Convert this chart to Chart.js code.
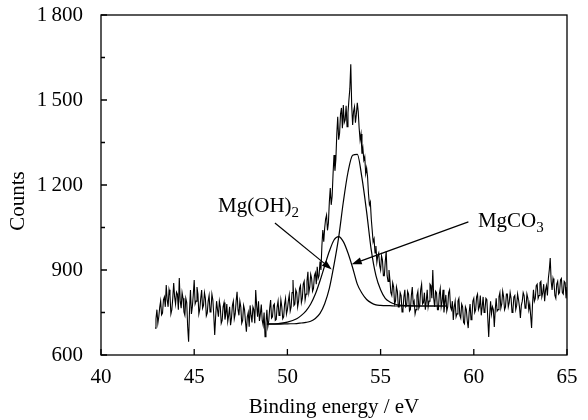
<!DOCTYPE html>
<html>
<head>
<meta charset="utf-8">
<title>Mg 2p XPS</title>
<script src="https://cdn.jsdelivr.net/npm/chart.js@4.4.1/dist/chart.umd.min.js"></script>
<style>
  html, body { margin: 0; padding: 0; background: #fff; }
</style>
</head>
<body>
<canvas id="xps" width="588" height="420"></canvas>
<script>
// ================================
// DATA
// ================================
const energy = [
  42.90, 42.95,
  43.00, 43.05, 43.10, 43.15, 43.20, 43.25, 43.30, 43.35, 43.40, 43.45, 43.50, 43.55, 43.60, 43.65, 43.70, 43.75, 43.80, 43.85, 43.90, 43.95,
  44.00, 44.05, 44.10, 44.15, 44.20, 44.25, 44.30, 44.35, 44.40, 44.45, 44.50, 44.55, 44.60, 44.65, 44.70, 44.75, 44.80, 44.85, 44.90, 44.95,
  45.00, 45.05, 45.10, 45.15, 45.20, 45.25, 45.30, 45.35, 45.40, 45.45, 45.50, 45.55, 45.60, 45.65, 45.70, 45.75, 45.80, 45.85, 45.90, 45.95,
  46.00, 46.05, 46.10, 46.15, 46.20, 46.25, 46.30, 46.35, 46.40, 46.45, 46.50, 46.55, 46.60, 46.65, 46.70, 46.75, 46.80, 46.85, 46.90, 46.95,
  47.00, 47.05, 47.10, 47.15, 47.20, 47.25, 47.30, 47.35, 47.40, 47.45, 47.50, 47.55, 47.60, 47.65, 47.70, 47.75, 47.80, 47.85, 47.90, 47.95,
  48.00, 48.05, 48.10, 48.15, 48.20, 48.25, 48.30, 48.35, 48.40, 48.45, 48.50, 48.55, 48.60, 48.65, 48.70, 48.75, 48.80, 48.85, 48.90, 48.95,
  49.00, 49.05, 49.10, 49.15, 49.20, 49.25, 49.30, 49.35, 49.40, 49.45, 49.50, 49.55, 49.60, 49.65, 49.70, 49.75, 49.80, 49.85, 49.90, 49.95,
  50.00, 50.05, 50.10, 50.15, 50.20, 50.25, 50.30, 50.35, 50.40, 50.45, 50.50, 50.55, 50.60, 50.65, 50.70, 50.75, 50.80, 50.85, 50.90, 50.95,
  51.00, 51.05, 51.10, 51.15, 51.20, 51.25, 51.30, 51.35, 51.40, 51.45, 51.50, 51.55, 51.60, 51.65, 51.70, 51.75, 51.80, 51.85, 51.90, 51.95,
  52.00, 52.05, 52.10, 52.15, 52.20, 52.25, 52.30, 52.35, 52.40, 52.45, 52.50, 52.55, 52.60, 52.65, 52.70, 52.75, 52.80, 52.85, 52.90, 52.95,
  53.00, 53.05, 53.10, 53.15, 53.20, 53.25, 53.30, 53.35, 53.40, 53.45, 53.50, 53.55, 53.60, 53.65, 53.70, 53.75, 53.80, 53.85, 53.90, 53.95,
  54.00, 54.05, 54.10, 54.15, 54.20, 54.25, 54.30, 54.35, 54.40, 54.45, 54.50, 54.55, 54.60, 54.65, 54.70, 54.75, 54.80, 54.85, 54.90, 54.95,
  55.00, 55.05, 55.10, 55.15, 55.20, 55.25, 55.30, 55.35, 55.40, 55.45, 55.50, 55.55, 55.60, 55.65, 55.70, 55.75, 55.80, 55.85, 55.90, 55.95,
  56.00, 56.05, 56.10, 56.15, 56.20, 56.25, 56.30, 56.35, 56.40, 56.45, 56.50, 56.55, 56.60, 56.65, 56.70, 56.75, 56.80, 56.85, 56.90, 56.95,
  57.00, 57.05, 57.10, 57.15, 57.20, 57.25, 57.30, 57.35, 57.40, 57.45, 57.50, 57.55, 57.60, 57.65, 57.70, 57.75, 57.80, 57.85, 57.90, 57.95,
  58.00, 58.05, 58.10, 58.15, 58.20, 58.25, 58.30, 58.35, 58.40, 58.45, 58.50, 58.55, 58.60, 58.65, 58.70, 58.75, 58.80, 58.85, 58.90, 58.95,
  59.00, 59.05, 59.10, 59.15, 59.20, 59.25, 59.30, 59.35, 59.40, 59.45, 59.50, 59.55, 59.60, 59.65, 59.70, 59.75, 59.80, 59.85, 59.90, 59.95,
  60.00, 60.05, 60.10, 60.15, 60.20, 60.25, 60.30, 60.35, 60.40, 60.45, 60.50, 60.55, 60.60, 60.65, 60.70, 60.75, 60.80, 60.85, 60.90, 60.95,
  61.00, 61.05, 61.10, 61.15, 61.20, 61.25, 61.30, 61.35, 61.40, 61.45, 61.50, 61.55, 61.60, 61.65, 61.70, 61.75, 61.80, 61.85, 61.90, 61.95,
  62.00, 62.05, 62.10, 62.15, 62.20, 62.25, 62.30, 62.35, 62.40, 62.45, 62.50, 62.55, 62.60, 62.65, 62.70, 62.75, 62.80, 62.85, 62.90, 62.95,
  63.00, 63.05, 63.10, 63.15, 63.20, 63.25, 63.30, 63.35, 63.40, 63.45, 63.50, 63.55, 63.60, 63.65, 63.70, 63.75, 63.80, 63.85, 63.90, 63.95,
  64.00, 64.05, 64.10, 64.15, 64.20, 64.25, 64.30, 64.35, 64.40, 64.45, 64.50, 64.55, 64.60, 64.65, 64.70, 64.75, 64.80, 64.85, 64.90, 64.95,
  65.00
];

const counts = [
  695, 728,
  760, 712, 735, 768, 790, 742, 748, 795, 805, 770, 847, 795, 770, 830, 812, 745, 760, 800, 854, 805,
  780, 822, 815, 760, 872, 790, 765, 820, 800, 752, 740, 800, 785, 700, 647, 760, 829, 745, 770, 812,
  865, 780, 790, 840, 815, 745, 762, 800, 829, 765, 775, 820, 800, 738, 748, 790, 810, 752, 760, 815,
  795, 740, 671, 735, 790, 760, 735, 790, 770, 712, 722, 770, 785, 725, 745, 780, 718, 740, 770, 705,
  730, 775, 790, 728, 745, 790, 823, 760, 740, 790, 770, 712, 722, 775, 760, 718, 682, 735, 750, 700,
  775, 740, 715, 770, 760, 712, 829, 775, 735, 790, 720, 745, 778, 722, 705, 750, 665, 712, 760, 700,
  720, 765, 794, 730, 735, 775, 780, 722, 725, 770, 790, 740, 748, 795, 770, 728, 735, 780, 800, 745,
  760, 790, 812, 755, 770, 820, 865, 775, 780, 830, 820, 770, 790, 835, 845, 785, 800, 850, 860, 795,
  815, 860, 894, 820, 840, 885, 870, 825, 835, 880, 890, 850, 911, 870, 880, 930, 900, 985, 1041, 1000,
  1048, 1080, 1094, 1040, 1066, 1140, 1189, 1130, 1160, 1240, 1306, 1250, 1290, 1380, 1441, 1360, 1383, 1450, 1472, 1400,
  1482, 1420, 1430, 1480, 1406, 1455, 1500, 1540, 1626, 1480, 1412, 1460, 1476, 1420, 1450, 1490, 1459, 1400, 1359, 1380,
  1310, 1330, 1288, 1300, 1240, 1260, 1229, 1170, 1130, 1140, 1080, 1040, 999, 1010, 960, 985, 928, 950, 960, 915,
  900, 950, 935, 880, 880, 930, 965, 880, 860, 900, 865, 820, 810, 855, 840, 780, 790, 840, 825, 770,
  770, 820, 810, 752, 760, 805, 830, 770, 775, 825, 815, 755, 760, 810, 840, 780, 790, 745, 760, 810,
  825, 765, 775, 830, 850, 780, 785, 820, 760, 790, 830, 770, 790, 850, 845, 800, 900, 800, 770, 825,
  820, 760, 760, 815, 835, 770, 790, 830, 750, 785, 812, 755, 770, 820, 830, 770, 760, 790, 724, 770,
  790, 735, 745, 790, 800, 740, 730, 780, 770, 715, 710, 770, 760, 720, 695, 750, 780, 725, 735, 790,
  800, 750, 760, 805, 815, 760, 770, 810, 740, 770, 805, 750, 760, 800, 795, 730, 664, 740, 790, 745,
  770, 760, 699, 760, 800, 755, 760, 805, 820, 765, 780, 825, 805, 760, 770, 815, 815, 770, 785, 820,
  800, 750, 760, 805, 810, 760, 775, 815, 795, 770, 731, 775, 790, 820, 810, 765, 770, 815, 800, 760,
  780, 740, 695, 780, 830, 790, 800, 845, 850, 800, 810, 855, 860, 805, 820, 850, 790, 830, 845, 810,
  870, 900, 942, 860, 830, 870, 855, 810, 800, 850, 860, 815, 820, 865, 870, 820, 815, 860, 855, 800,
  840
];

// fitted components
const fitEnergy = [48.9, 49.5, 50.0, 50.5, 50.75, 51.0, 51.25, 51.5, 51.75, 52.0,
  52.25, 52.5, 52.75, 53.0, 53.25, 53.5, 53.75, 54.0, 54.25, 54.5,
  54.75, 55.0, 55.25, 55.5, 55.75, 56.0, 56.5, 57.0, 58.5];
const ohFit = [710, 711, 716, 728, 740, 756, 780, 815, 862, 915,
  966, 1006, 1018, 1000, 960, 908, 850, 818, 796, 784,
  777, 775, 774, 774, 773, 773, 773, 773, 773];
const co3Fit = [709, 709, 710, 711, 713, 715, 719, 729, 747, 781,
  835, 918, 1015, 1140, 1245, 1305, 1308, 1225, 1105, 970,
  880, 830, 800, 787, 780, 776, 774, 773, 773];

// axis ticks
const xTicks = [40, 45, 50, 55, 60, 65];
const yTicks = [600, 900, 1200, 1500, 1800];
const yMinor = [750, 1050, 1350, 1650];

// annotations: [label, sub, textX, textY, arrowFromX, arrowFromY, arrowToX, arrowToY]
const notes = [
  ["Mg(OH)", "2", 46.28, 1105, 49.33, 1066, 52.38, 902],
  ["MgCO", "3", 60.22, 1052, 59.71, 1070, 53.45, 920]
];

const FONT = "'Liberation Serif', 'Times New Roman', serif";

// ================================
// FRAME, TICKS, TITLES, ARROWS
// ================================
const decor = {
  id: "decor",
  afterDraw(chart) {
    const { ctx, chartArea: a, scales: { x, y } } = chart;
    ctx.save();
    ctx.strokeStyle = "#000";
    ctx.fillStyle = "#000";
    ctx.lineWidth = 1.3;
    ctx.strokeRect(a.left, a.top, a.right - a.left, a.bottom - a.top);

    // inward ticks
    ctx.beginPath();
    xTicks.forEach(v => {
      const px = x.getPixelForValue(v);
      ctx.moveTo(px, a.bottom);
      ctx.lineTo(px, a.bottom - 6);
    });
    yTicks.forEach(v => {
      const py = y.getPixelForValue(v);
      ctx.moveTo(a.left, py);
      ctx.lineTo(a.left + 6, py);
    });
    yMinor.forEach(v => {
      const py = y.getPixelForValue(v);
      ctx.moveTo(a.left, py);
      ctx.lineTo(a.left + 4, py);
    });
    ctx.stroke();

    // axis titles
    ctx.font = "21px " + FONT;
    ctx.textAlign = "center";
    ctx.textBaseline = "alphabetic";
    ctx.fillText("Binding energy / eV", (a.left + a.right) / 2, 413);
    ctx.save();
    ctx.translate(24, 201);
    ctx.rotate(-Math.PI / 2);
    ctx.fillText("Counts", 0, 0);
    ctx.restore();

    // labels + arrows
    notes.forEach(([txt, sub, tx, ty, fx, fy, ex, ey]) => {
      const lx = x.getPixelForValue(tx), ly = y.getPixelForValue(ty);
      ctx.textAlign = "left";
      ctx.font = "21px " + FONT;
      ctx.fillText(txt, lx, ly);
      const w = ctx.measureText(txt).width;
      ctx.font = "15px " + FONT;
      ctx.fillText(sub, lx + w, ly + 5);

      const x0 = x.getPixelForValue(fx), y0 = y.getPixelForValue(fy);
      const x1 = x.getPixelForValue(ex), y1 = y.getPixelForValue(ey);
      const ang = Math.atan2(y1 - y0, x1 - x0);
      const hl = 10, hw = 3.5;
      ctx.lineWidth = 1.2;
      ctx.beginPath();
      ctx.moveTo(x0, y0);
      ctx.lineTo(x1 - hl * Math.cos(ang), y1 - hl * Math.sin(ang));
      ctx.stroke();
      ctx.beginPath();
      ctx.moveTo(x1, y1);
      ctx.lineTo(x1 - hl * Math.cos(ang) + hw * Math.sin(ang), y1 - hl * Math.sin(ang) - hw * Math.cos(ang));
      ctx.lineTo(x1 - hl * Math.cos(ang) - hw * Math.sin(ang), y1 - hl * Math.sin(ang) + hw * Math.cos(ang));
      ctx.closePath();
      ctx.fill();
    });
    ctx.restore();
  }
};

// ================================
// BUILD CHART
// ================================
const toPoints = (xs, ys) => xs.map((v, i) => ({ x: v, y: ys[i] }));

new Chart(document.getElementById("xps"), {
  type: "line",
  data: {
    datasets: [
      {
        label: "Measured",
        data: toPoints(energy, counts),
        borderColor: "#000",
        borderWidth: 1.1,
        pointRadius: 0,
        tension: 0
      },
      {
        label: "Mg(OH)2",
        data: toPoints(fitEnergy, ohFit),
        borderColor: "#000",
        borderWidth: 1.2,
        pointRadius: 0,
        cubicInterpolationMode: "monotone"
      },
      {
        label: "MgCO3",
        data: toPoints(fitEnergy, co3Fit),
        borderColor: "#000",
        borderWidth: 1.2,
        pointRadius: 0,
        cubicInterpolationMode: "monotone"
      }
    ]
  },
  options: {
    responsive: false,
    animation: false,
    layout: { padding: { left: 0, right: 21, top: 15, bottom: 0 } },
    plugins: { legend: { display: false }, tooltip: { enabled: false } },
    scales: {
      x: {
        type: "linear",
        min: 40,
        max: 65,
        afterFit: s => { s.height = 65; s.paddingLeft = 0; s.paddingRight = 0; },
        afterBuildTicks: s => { s.ticks = xTicks.map(v => ({ value: v })); },
        grid: { display: false, drawTicks: false },
        border: { display: false },
        ticks: { color: "#000", font: { family: FONT, size: 21 }, padding: 10, maxRotation: 0 }
      },
      y: {
        min: 600,
        max: 1800,
        afterFit: s => { s.width = 101; s.paddingTop = 0; s.paddingBottom = 0; },
        afterBuildTicks: s => { s.ticks = yTicks.map(v => ({ value: v })); },
        grid: { display: false, drawTicks: false },
        border: { display: false },
        ticks: {
          color: "#000",
          font: { family: FONT, size: 21 },
          padding: 18,
          callback: v => v >= 1000 ? String(v).replace(/^(\d)/, "$1\u2009") : String(v)
        }
      }
    }
  },
  plugins: [decor]
});
</script>
</body>
</html>
